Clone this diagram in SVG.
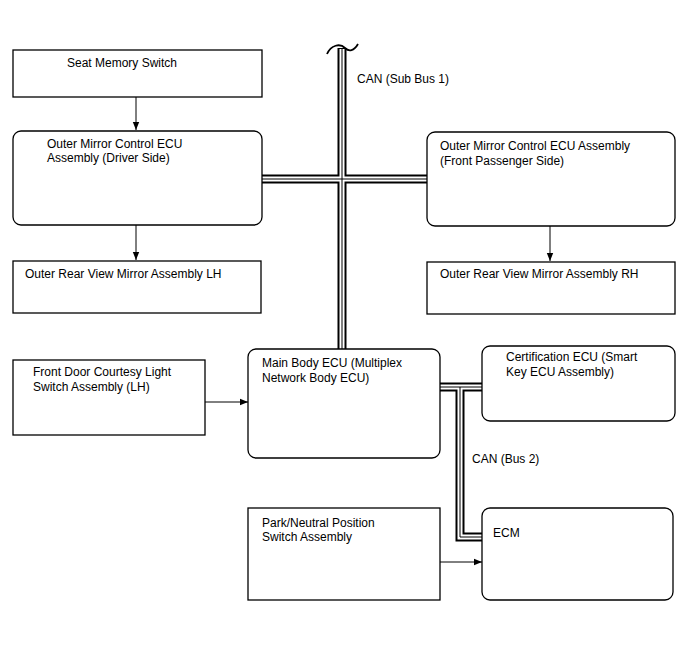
<svg xmlns="http://www.w3.org/2000/svg" width="688" height="658" viewBox="0 0 688 658">
<defs>
<style>
.box{fill:#fff;stroke:#000;stroke-width:1.3}
.t{font-family:"Liberation Sans",Arial,sans-serif;font-size:12px;fill:#000}
.ln{fill:none;stroke:#000;stroke-width:1}
.b1{fill:none;stroke:#000;stroke-width:9}
.b2{fill:none;stroke:#fff;stroke-width:5}
.b3{fill:none;stroke:#000;stroke-width:1}
</style>
<marker id="ah" markerWidth="8" markerHeight="8" refX="8" refY="4" orient="auto" markerUnits="userSpaceOnUse">
<path d="M0,0.8 L8,4 L0,7.2 Z" fill="#000"/>
</marker>
</defs>
<rect width="688" height="658" fill="#fff"/>
<g id="connectors">
<g id="bus">
<path class="b1" d="M342,48 V349 M262,179 H427 M440,387 H482 M460,387 V537 H484"/>
<path class="b2" d="M342,49 V349 M262,179 H427 M440,387 H482 M460,387 V537 H484"/>
<path class="b3" d="M342,49 V349 M262,179 H427 M440,387 H482 M460,387 V537 H484"/>
<path d="M327,54 C331,45 340,43 345,48 C349,52 354,51 358,44" fill="none" stroke="#000" stroke-width="1.8"/>
</g>
<path class="ln" d="M136,97 V130" marker-end="url(#ah)"/>
<path class="ln" d="M136,225 V260" marker-end="url(#ah)"/>
<path class="ln" d="M550,226 V261" marker-end="url(#ah)"/>
<path class="ln" d="M205,402 H248" marker-end="url(#ah)"/>
<path class="ln" d="M440,562 H482" marker-end="url(#ah)"/>
<text class="t" x="357" y="83">CAN (Sub Bus 1)</text>
<text class="t" x="472" y="463">CAN (Bus 2)</text>
</g>
<g id="seat-memory-switch">
<rect class="box" x="13" y="50" width="249" height="47"/>
<text class="t" x="67" y="67">Seat Memory Switch</text>
</g>
<g id="outer-mirror-ecu-driver">
<rect class="box" x="13" y="131" width="249" height="94" rx="8"/>
<text class="t" x="47" y="148">Outer Mirror Control ECU</text>
<text class="t" x="47" y="162">Assembly (Driver Side)</text>
</g>
<g id="outer-rear-view-mirror-lh">
<rect class="box" x="13" y="261" width="248" height="52"/>
<text class="t" x="25" y="278">Outer Rear View Mirror Assembly LH</text>
</g>
<g id="outer-mirror-ecu-passenger">
<rect class="box" x="427" y="132" width="248" height="94" rx="8"/>
<text class="t" x="440" y="150">Outer Mirror Control ECU Assembly</text>
<text class="t" x="440" y="165">(Front Passenger Side)</text>
</g>
<g id="outer-rear-view-mirror-rh">
<rect class="box" x="427" y="262" width="248" height="52"/>
<text class="t" x="440" y="278">Outer Rear View Mirror Assembly RH</text>
</g>
<g id="front-door-courtesy-switch">
<rect class="box" x="13" y="360" width="192" height="75"/>
<text class="t" x="33" y="376">Front Door Courtesy Light</text>
<text class="t" x="33" y="391">Switch Assembly (LH)</text>
</g>
<g id="main-body-ecu">
<rect class="box" x="248" y="349" width="192" height="109" rx="8"/>
<text class="t" x="262" y="367">Main Body ECU (Multiplex</text>
<text class="t" x="262" y="382">Network Body ECU)</text>
</g>
<g id="certification-ecu">
<rect class="box" x="482" y="346" width="193" height="75" rx="8"/>
<text class="t" x="506" y="361">Certification ECU (Smart</text>
<text class="t" x="506" y="376">Key ECU Assembly)</text>
</g>
<g id="park-neutral-switch">
<rect class="box" x="248" y="508" width="192" height="92"/>
<text class="t" x="262" y="527">Park/Neutral Position</text>
<text class="t" x="262" y="541">Switch Assembly</text>
</g>
<g id="ecm">
<rect class="box" x="482" y="508" width="191" height="92" rx="8"/>
<text class="t" x="493" y="537">ECM</text>
</g>
</svg>
